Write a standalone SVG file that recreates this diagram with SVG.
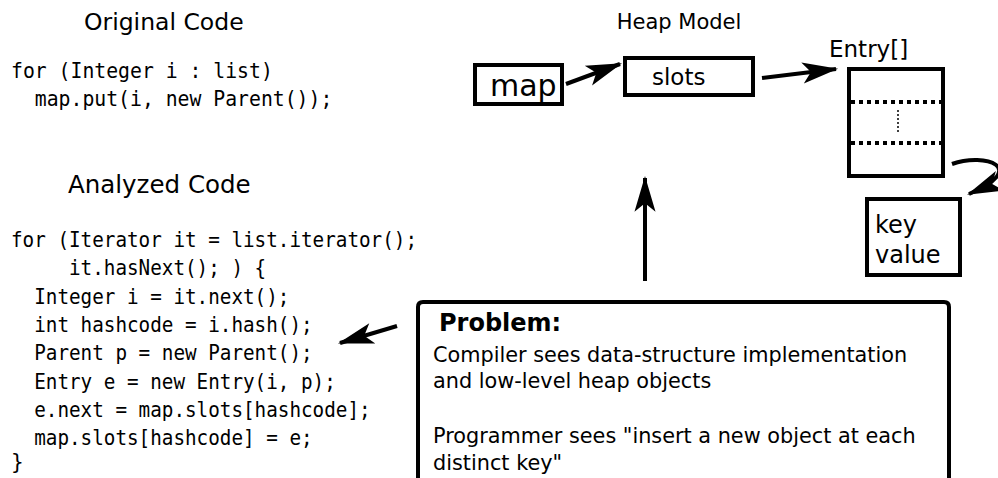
<svg xmlns="http://www.w3.org/2000/svg" width="998" height="478" viewBox="0 0 998 478">
  <style>
    .title { font-family: "DejaVu Sans", sans-serif; font-size: 24px; fill: #000; }
    .code { font-family: "DejaVu Sans Mono", monospace; font-size: 21px; fill: #000; }
    .lbl { font-family: "DejaVu Sans", sans-serif; fill: #000; }
    .box { fill: #fff; stroke: #000; stroke-width: 4; }
    .edge { fill: none; stroke: #000; stroke-width: 4; }
    .body { font-family: "DejaVu Sans", sans-serif; font-size: 20.8px; fill: #000; }
  </style>
  <defs>
    <marker id="head" markerUnits="userSpaceOnUse" markerWidth="40" markerHeight="30" viewBox="-34 -12 38 24" refX="0" refY="0" orient="auto">
      <path d="M2,0 L-32,-10 L-24,0 L-32,10 Z" fill="#000"/>
    </marker>
  </defs>
  <rect width="998" height="478" fill="#fff"/>

  <!-- source listings (monospace, narrowed to ~11.6-11.9px per character; indent set by x) -->
  <g id="original-code">
    <text class="title" x="84" y="30" style="font-size:23.5px">Original Code</text>
    <text class="code" x="11" y="78" textLength="261.8" lengthAdjust="spacingAndGlyphs">for (Integer i : list)</text>
    <text class="code" x="34.8" y="106" textLength="297.5" lengthAdjust="spacingAndGlyphs">map.put(i, new Parent());</text>
  </g>

  <g id="analyzed-code">
    <text class="title" x="68" y="193" style="font-size:24.5px">Analyzed Code</text>
    <text class="code" x="11" y="247" textLength="406" lengthAdjust="spacingAndGlyphs">for (Iterator it = list.iterator();</text>
    <text class="code" x="69" y="275" textLength="197.2" lengthAdjust="spacingAndGlyphs">it.hasNext(); ) {</text>
    <text class="code" x="34.2" y="304" textLength="255.2" lengthAdjust="spacingAndGlyphs">Integer i = it.next();</text>
    <text class="code" x="34.2" y="332" textLength="278.4" lengthAdjust="spacingAndGlyphs">int hashcode = i.hash();</text>
    <text class="code" x="34.2" y="360" textLength="278.4" lengthAdjust="spacingAndGlyphs">Parent p = new Parent();</text>
    <text class="code" x="34.2" y="389" textLength="301.6" lengthAdjust="spacingAndGlyphs">Entry e = new Entry(i, p);</text>
    <text class="code" x="34.2" y="417" textLength="336.4" lengthAdjust="spacingAndGlyphs">e.next = map.slots[hashcode];</text>
    <text class="code" x="34.2" y="445" textLength="278.4" lengthAdjust="spacingAndGlyphs">map.slots[hashcode] = e;</text>
    <text class="code" x="11" y="469">}</text>
  </g>

  <!-- heap model -->
  <text class="title" x="679" y="29" text-anchor="middle" style="font-size:21px">Heap Model</text>

  <g id="map">
    <rect class="box" x="475" y="65" width="87" height="39"/>
    <text class="lbl" x="490" y="96" style="font-size:30px">map</text>
  </g>

  <g id="slots">
    <rect class="box" x="625" y="58" width="128" height="37"/>
    <text class="lbl" x="652" y="85" style="font-size:23px">slots</text>
  </g>

  <g id="entry-array">
    <text class="lbl" x="829" y="57" style="font-size:23px">Entry[]</text>
    <rect class="box" x="849" y="69" width="94" height="107"/>
    <line x1="851" y1="102" x2="941" y2="102" stroke="#000" stroke-width="4" stroke-dasharray="4 4"/>
    <line x1="851" y1="143" x2="941" y2="143" stroke="#000" stroke-width="4" stroke-dasharray="4 4"/>
    <line x1="898" y1="110" x2="898" y2="133" stroke="#000" stroke-width="1.5" stroke-dasharray="2 2"/>
  </g>

  <g id="entry">
    <rect class="box" x="867" y="199" width="93" height="76"/>
    <text class="lbl" x="875" y="233" style="font-size:24px">key</text>
    <text class="lbl" x="875" y="263" style="font-size:24px">value</text>
  </g>

  <g id="problem">
    <path class="edge" d="M418,482 L418,307 Q418,302 423,302 L944,302 Q949,302 949,307 L949,482"/>
    <text class="lbl" x="439" y="331" style="font-size:24px;font-weight:bold">Problem:</text>
    <text class="body" x="433" y="362">Compiler sees data-structure implementation</text>
    <text class="body" x="433" y="388">and low-level heap objects</text>
    <text class="body" x="433" y="443">Programmer sees "insert a new object at each</text>
    <text class="body" x="433" y="470">distinct key"</text>
  </g>

  <!-- connectors -->
  <g id="connectors">
    <line class="edge" x1="566" y1="84" x2="620" y2="64" marker-end="url(#head)"/>
    <line class="edge" x1="762" y1="78" x2="836" y2="69" marker-end="url(#head)"/>
    <path class="edge" d="M952,164 C985,152 1030,168 969,194" marker-end="url(#head)"/>
    <line class="edge" x1="645" y1="281" x2="645" y2="178" marker-end="url(#head)"/>
    <line class="edge" x1="397" y1="326" x2="340" y2="343" marker-end="url(#head)"/>
  </g>
</svg>
